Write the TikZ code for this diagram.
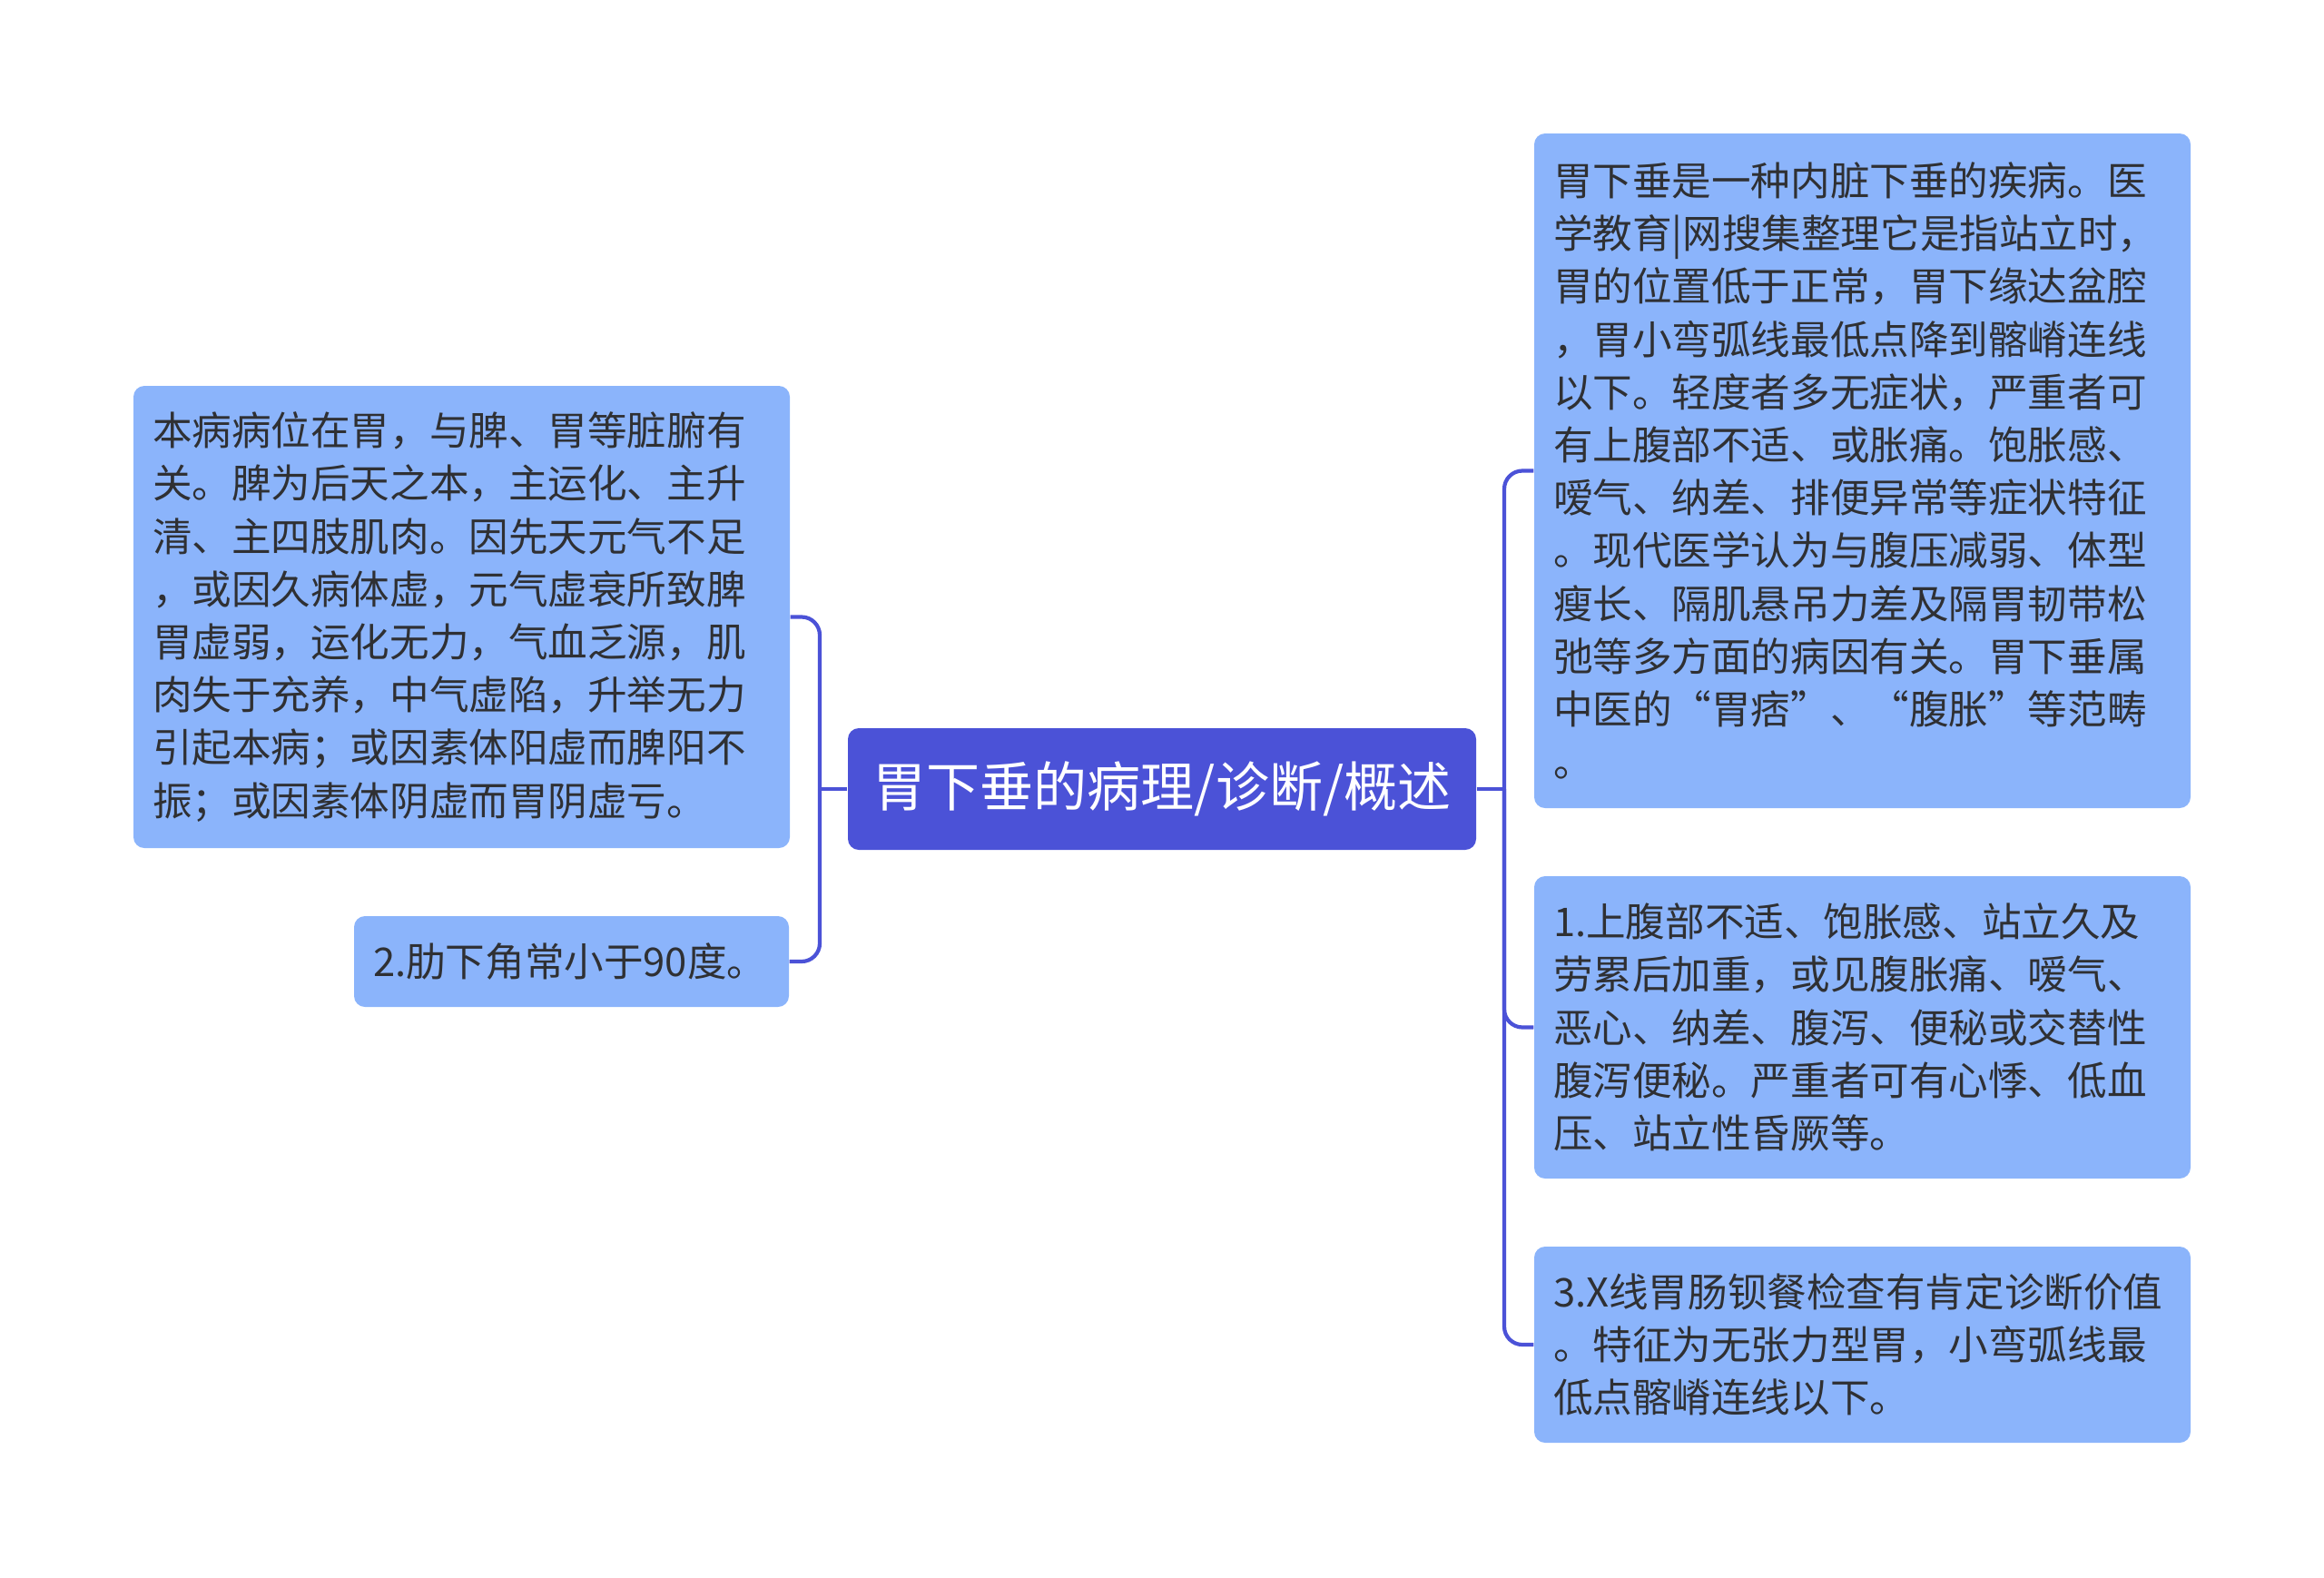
\documentclass[tikz,border=0pt]{standalone}
\usepackage{fontspec}
\setmainfont{Noto Sans CJK SC}
\usepackage{xcolor}
\definecolor{hubblue}{HTML}{4B52D7}
\definecolor{leafblue}{HTML}{8BB4FB}
\definecolor{inkgray}{HTML}{2F3033}

\begin{document}
\begin{tikzpicture}
		\tikzstyle{topic}=[fill=hubblue, rounded corners=0.12cm, text=white, font=\fontsize{16.8pt}{20pt}\selectfont, minimum width=6.92cm, minimum height=1.34cm]
		\tikzstyle{leaf}=[fill=leafblue, rounded corners=0.12cm, text=inkgray, font=\fontsize{12.4pt}{16.56pt}\selectfont, align=left, inner xsep=0.21cm, inner ysep=0pt, text width=6.81cm]
		\tikzstyle{link}=[draw=hubblue, line width=1.2pt]
		\useasboundingbox (0,0) rectangle (25.6,-17.37);

		\node[topic] (root) at (12.80,-8.69) {胃下垂的病理/诊断/概述};

		\node[leaf, minimum height=5.09cm] (cause) at (5.085,-6.795) {本病病位在胃，与脾、胃等脏腑有\\关。脾为后天之本，主运化、主升\\清、主四肢肌肉。因先天元气不足\\，或因久病体虚，元气虚衰所致脾\\胃虚弱，运化无力，气血乏源，肌\\肉失于充养，中气虚陷，升举无力\\引起本病；或因素体阳虚而脾阳不\\振；或因素体阴虚而胃阴虚亏。};
		\node[leaf, text width=4.37cm, minimum height=1.0cm] (angle) at (6.295,-10.59) {2.肋下角常小于90度。};

		\node[leaf, minimum height=7.43cm] (define) at (20.515,-5.185) {胃下垂是一种内脏下垂的疾病。医\\学教育|网搜集整理它是指站立时，\\胃的位置低于正常，胃下缘达盆腔\\，胃小弯弧线最低点降到髂嵴连线\\以下。轻度者多无症状，严重者可\\有上腹部不适、或胀痛。饱胀感、\\嗳气、纳差、排便异常等症状特征\\。现代医学认为与腹压减弱、体型\\瘦长、隔肌悬吊力差及隔胃韧带松\\弛等多方面的病因有关。胃下垂属\\中医的“胃痞”、“腹胀”等范畴\\。};
		\node[leaf, minimum height=3.33cm] (symptom) at (20.515,-11.315) {1.上腹部不适、饱胀感、站立久及\\劳累后加重，或见腹胀痛、嗳气、\\恶心、纳差、腹泻、便秘或交替性\\腹泻便秘。严重者可有心悸、低血\\压、站立性昏厥等。};
		\node[leaf, minimum height=2.16cm] (xray) at (20.515,-14.81) {3.X线胃肠钡餐检查有肯定诊断价值\\。特征为无张力型胃，小弯弧线最\\低点髂嵴连线以下。};

		% branch joints
		\coordinate (lj) at (9.03,-8.69);
		\coordinate (rj) at (16.57,-8.69);

		\draw[link] (root.west) -- (lj);
		\draw[link] (root.east) -- (rj);
		\draw[link, rounded corners=0.2cm] (lj) |- (cause.east);
		\draw[link, rounded corners=0.2cm] (lj) |- (angle.east);
		\draw[link, rounded corners=0.2cm] (rj) |- (define.west);
		\draw[link, rounded corners=0.2cm] (rj) |- (symptom.west);
		\draw[link, rounded corners=0.2cm] (rj) |- (xray.west);
	\end{tikzpicture}
\end{document}
